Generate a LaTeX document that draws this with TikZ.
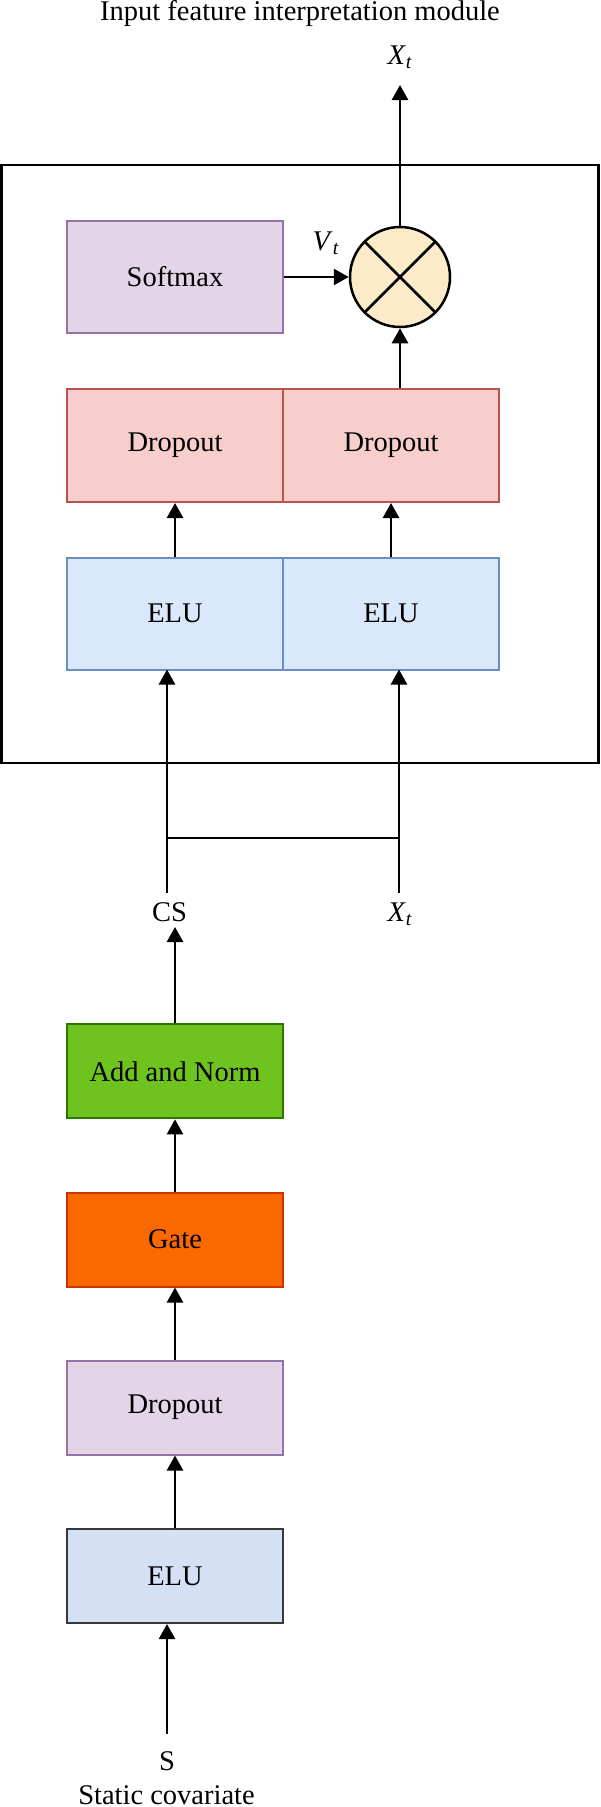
\documentclass[tikz,border=0pt]{standalone}
\usepackage{fontspec}
\setmainfont{Liberation Serif}
\usetikzlibrary{arrows.meta}
\definecolor{purfill}{HTML}{E1D5E7}
\definecolor{purdraw}{HTML}{9673A6}
\definecolor{redfill}{HTML}{F8CECC}
\definecolor{reddraw}{HTML}{B85450}
\definecolor{bluefill}{HTML}{DAE8FC}
\definecolor{bluedraw}{HTML}{6C8EBF}
\definecolor{elufill}{HTML}{D4E1F5}
\definecolor{eludraw}{HTML}{36393D}
\definecolor{greenfill}{HTML}{6FC31E}
\definecolor{greendraw}{HTML}{2D7600}
\definecolor{gatefill}{HTML}{FA6800}
\definecolor{gatedraw}{HTML}{C73500}
\definecolor{circfill}{HTML}{FCEBC8}
\tikzset{
  box/.style={rectangle, minimum width=216pt, minimum height=112pt, inner sep=0pt, line width=2pt, font=\fontsize{28.5}{33}\selectfont},
  lbl/.style={inner sep=0pt, font=\fontsize{28.5}{33}\selectfont},
  arr/.style={line width=2.5pt, -{Triangle[length=15pt,width=16pt]}},
  ln/.style={line width=2.5pt},
}
\begin{document}
\begin{tikzpicture}[x=1pt,y=-1pt]
\useasboundingbox (0,0) rectangle (600,1807);
% title
\node[lbl] (title) at (300,13) {Input feature interpretation module};
\node[lbl] (xtop) at (400,57) {\textit{X}\textsubscript{\textit{t}}};
\coordinate (xtopend) at (400,85);
% outer module box
\draw[line width=2.5pt] (1.5,165) rectangle (598.5,763);
% upper module
\node[box, fill=purfill, draw=purdraw] (soft) at (175,277) {Softmax};
\node[circle, draw=black, fill=circfill, line width=2.5pt, minimum size=100pt, inner sep=0pt] (mul) at (400,277) {};
\draw[line width=2.5pt] (mul.45) -- (mul.225) (mul.135) -- (mul.315);
\node[box, fill=redfill, draw=reddraw, minimum height=113pt] (dropL) at (175,445.5) {Dropout};
\node[box, fill=redfill, draw=reddraw, minimum height=113pt] (dropR) at (391,445.5) {Dropout};
\node[box, fill=bluefill, draw=bluedraw] (eluL) at (175,613.5) {ELU};
\node[box, fill=bluefill, draw=bluedraw] (eluR) at (391,613.5) {ELU};
\node[lbl] (vt) at (326,243) {\textit{V}\textsubscript{\textit{t}}};
% arrows in module
\draw[arr] (mul.north) -- (xtopend);
\draw[arr] (soft.east) -- (mul.west);
\draw[arr] (dropR.north -| mul.south) -- (mul.south);
\draw[arr] (eluL.north) -- (dropL.south);
\draw[arr] (eluR.north) -- (dropR.south);
% inputs to module
\node[lbl] (cs) at (169.5,912) {CS};
\node[lbl] (xin) at (400,914) {\textit{X}\textsubscript{\textit{t}}};
\coordinate (csend) at (167,893);
\coordinate (xinend) at (399,893);
\coordinate (jL) at (167,838);
\coordinate (jR) at (399,838);
\coordinate (eluLin) at (167,669.5);
\coordinate (eluRin) at (399,669.5);
\draw[ln] (csend) -- (jL);
\draw[ln] (xinend) -- (jR);
\draw[ln] (jL) -- (jR);
\draw[arr] (jL) -- (eluLin);
\draw[arr] (jR) -- (eluRin);
% lower stack
\node[box, fill=greenfill, draw=greendraw, minimum height=94pt] (addn) at (175,1071.3) {Add and Norm};
\node[box, fill=gatefill, draw=gatedraw, minimum height=94pt] (gate) at (175,1239.5) {Gate};
\node[box, fill=purfill, draw=purdraw, minimum height=94pt] (drop2) at (175,1407.5) {Dropout};
\node[box, fill=elufill, draw=eludraw, minimum height=94pt] (elu2) at (175,1576) {ELU};
\node[lbl] (s) at (167,1761) {S};
\node[lbl] (static) at (166.5,1795) {Static covariate};
\coordinate (send) at (167,1734);
\coordinate (csin) at (175,927);
\draw[arr] (addn.north) -- (csin);
\draw[arr] (gate.north) -- (addn.south);
\draw[arr] (drop2.north) -- (gate.south);
\draw[arr] (elu2.north) -- (drop2.south);
\draw[arr] (send) -- (elu2.south -| send);
\end{tikzpicture}
\end{document}
